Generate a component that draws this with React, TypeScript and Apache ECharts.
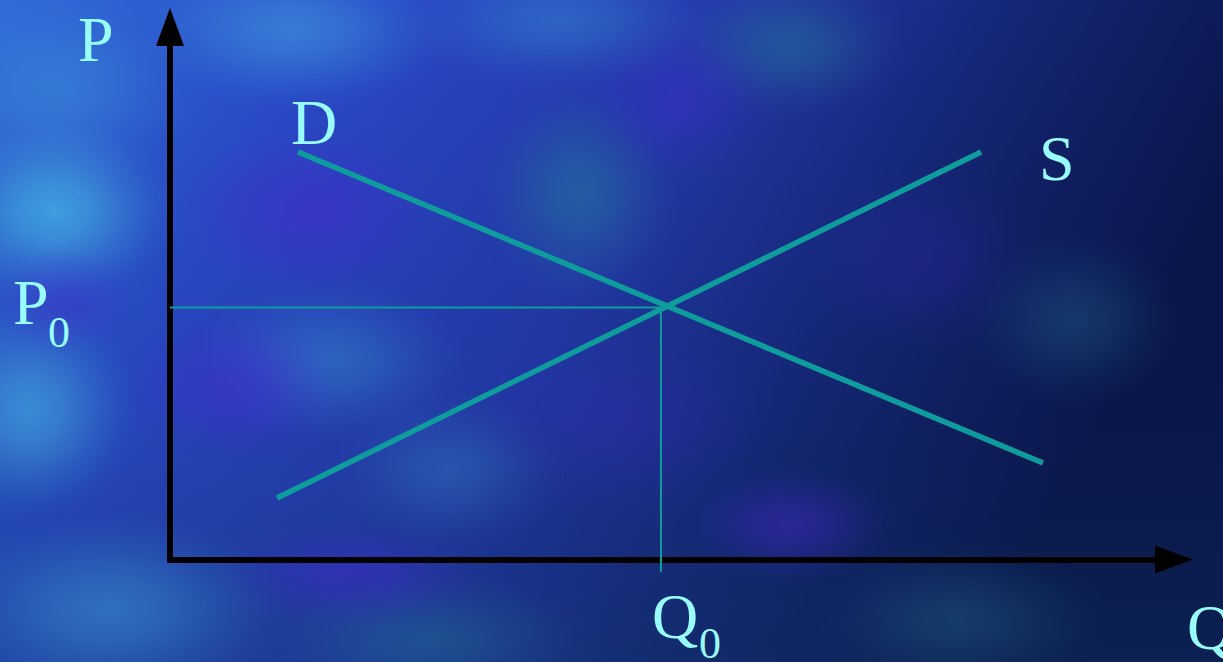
import React, { useEffect, useRef } from "react";
import * as echarts from "echarts";

// Demand curve D (quantity, price)
const demandQ = [1.275, 8.695];
const demandP = [7.653, 1.812];
// Supply curve S
const supplyQ = [1.066, 8.078];
const supplyP = [1.155, 7.653];
// Equilibrium guides
const equilibriumQ = 4.89;
const equilibriumP = 4.732;
const guideBelowAxis = -0.235;
// Axis ranges
const qRange = [0, 10];
const pRange = [0, 10];
// Labels
const axisTitles = { price: "P", quantity: "Q" };
const curveNames = { demand: "D", supply: "S" };
const subscript = "0";

const W = 1223;
const H = 662;
const GRID = { left: 170, top: 27, right: 49, bottom: 102.5 };

const SERIF = '"Liberation Serif", "Times New Roman", serif';
const TEXT_COLOR = "#99fcfc";
const LINE_COLOR = "#0e9c9c";

function radial(color: string, a: number) {
  return new echarts.graphic.RadialGradient(0.5, 0.5, 0.5, [
    { offset: 0, color: `rgba(${color},${a})` },
    { offset: 0.3, color: `rgba(${color},${a * 0.75})` },
    { offset: 0.6, color: `rgba(${color},${a * 0.35})` },
    { offset: 0.85, color: `rgba(${color},${a * 0.08})` },
    { offset: 1, color: `rgba(${color},0)` },
  ]);
}

function blob(cx: number, cy: number, rx: number, ry: number, color: string, a: number) {
  return {
    type: "ellipse",
    z: -10,
    silent: true,
    shape: { cx, cy, rx, ry },
    style: { fill: radial(color, a) },
  };
}

const CYAN = "70,180,230";
const PURPLE = "70,40,205";
const TEAL = "40,125,155";

export default function App() {
  const ref = useRef<HTMLDivElement>(null);

  useEffect(() => {
    if (!ref.current) return;
    const chart = echarts.init(ref.current, undefined, { renderer: "svg" });

    const pair = (xs: number[], ys: number[]) => xs.map((x, i) => [x, ys[i]]);

    const background: any[] = [
      {
        type: "rect",
        z: -20,
        silent: true,
        shape: { x: 0, y: 0, width: W, height: H },
        style: {
          fill: new echarts.graphic.LinearGradient(0, 0, 1, 0.3, [
            { offset: 0, color: "#2f6cd6" },
            { offset: 0.26, color: "#2a4ac8" },
            { offset: 0.55, color: "#2339aa" },
            { offset: 0.78, color: "#142573" },
            { offset: 1, color: "#0a1448" },
          ]),
        },
      },
      {
        type: "rect",
        z: -19,
        silent: true,
        shape: { x: 0, y: 0, width: W, height: H },
        style: {
          fill: new echarts.graphic.LinearGradient(0, 0, 0, 1, [
            { offset: 0, color: "rgba(10,25,80,0)" },
            { offset: 0.6, color: "rgba(12,40,90,0.12)" },
            { offset: 1, color: "rgba(14,55,100,0.35)" },
          ]),
        },
      },
      blob(55, 211, 120, 95, CYAN, 0.75),
      blob(30, 410, 110, 110, CYAN, 0.6),
      blob(60, 90, 140, 100, CYAN, 0.3),
      blob(296, 30, 160, 80, CYAN, 0.45),
      blob(560, 20, 160, 70, CYAN, 0.3),
      blob(330, 360, 140, 80, CYAN, 0.3),
      blob(580, 195, 100, 110, TEAL, 0.5),
      blob(790, 45, 120, 75, TEAL, 0.45),
      blob(450, 470, 120, 80, CYAN, 0.22),
      blob(110, 610, 180, 100, CYAN, 0.4),
      blob(430, 640, 170, 70, TEAL, 0.35),
      blob(1075, 320, 110, 90, TEAL, 0.3),
      blob(960, 620, 150, 80, TEAL, 0.3),
      blob(312, 211, 140, 90, PURPLE, 0.55),
      blob(234, 385, 110, 80, PURPLE, 0.5),
      blob(680, 100, 100, 80, PURPLE, 0.35),
      blob(790, 525, 110, 60, PURPLE, 0.45),
      blob(350, 575, 140, 55, PURPLE, 0.45),
      blob(620, 420, 160, 100, PURPLE, 0.25),
      blob(920, 260, 130, 100, PURPLE, 0.2),
      blob(60, 300, 80, 60, PURPLE, 0.35),
    ];

    const label = (text: string, x: number, y: number, size: number) => ({
      type: "text",
      z: 20,
      silent: true,
      x,
      y,
      style: {
        text,
        fill: TEXT_COLOR,
        font: `${size}px ${SERIF}`,
        align: "left",
        verticalAlign: "middle",
      },
    });

    const texts = [
      label(axisTitles.price, 78, 39, 64),
      label(curveNames.demand, 291, 122, 64),
      label(curveNames.supply, 1039, 158, 64),
      label(axisTitles.price, 13, 302, 64),
      label(subscript, 48, 332, 44),
      label(axisTitles.quantity, 652, 616, 64),
      label(subscript, 699, 643, 44),
      label(axisTitles.quantity, 1187, 627, 64),
    ];

    const axisCommon = {
      type: "value",
      axisLabel: { show: false },
      axisTick: { show: false },
      splitLine: { show: false },
      axisLine: {
        show: true,
        onZero: false,
        symbol: ["none", "triangle"],
        symbolSize: [28, 38],
        lineStyle: { color: "#000000", width: 6, cap: "square" },
      },
    };

    chart.setOption({
      animation: false,
      backgroundColor: "#1b2f9a",
      grid: { ...GRID, containLabel: false },
      xAxis: { ...axisCommon, min: qRange[0], max: qRange[1] },
      yAxis: { ...axisCommon, min: pRange[0], max: pRange[1] },
      graphic: { elements: [...background, ...texts] },
      series: [
        {
          name: curveNames.demand,
          type: "line",
          data: pair(demandQ, demandP),
          symbol: "none",
          clip: false,
          lineStyle: { color: LINE_COLOR, width: 5.5 },
        },
        {
          name: curveNames.supply,
          type: "line",
          data: pair(supplyQ, supplyP),
          symbol: "none",
          clip: false,
          lineStyle: { color: LINE_COLOR, width: 5.5 },
        },
        {
          name: "P0",
          type: "line",
          data: [
            [qRange[0], equilibriumP],
            [equilibriumQ, equilibriumP],
          ],
          symbol: "none",
          clip: false,
          lineStyle: { color: LINE_COLOR, width: 2 },
        },
        {
          name: "Q0",
          type: "line",
          data: [
            [equilibriumQ, equilibriumP],
            [equilibriumQ, guideBelowAxis],
          ],
          symbol: "none",
          clip: false,
          lineStyle: { color: LINE_COLOR, width: 2 },
        },
      ],
    });

    return () => chart.dispose();
  }, []);

  return (
    <div
      ref={ref}
      style={{ position: "fixed", left: 0, top: 0, width: W, height: H }}
    />
  );
}
